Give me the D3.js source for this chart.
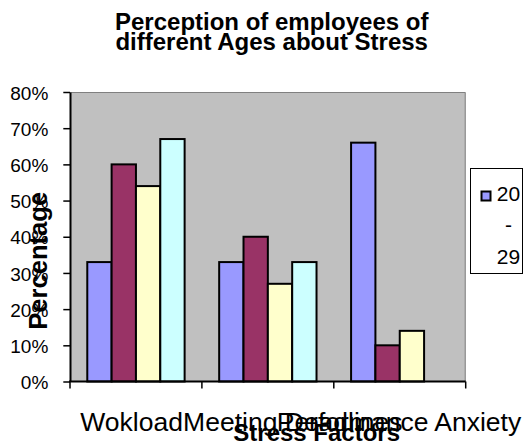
<!DOCTYPE html>
<meta charset="utf-8">
<style>
body { margin: 0; background: #fff; }
text { font-family: "Liberation Sans", Arial, sans-serif; fill: #000; }
</style>
<body>
<script src="https://cdn.jsdelivr.net/npm/d3@7"></script>
<script>
// chart data
var categories = ["Wokload", "Meeting Deadlines", "Performance Anxiety"];
var series = ["20 - 29", "30 - 39", "40 - 49", "50 & above"];
var values20 = [0.33, 0.33, 0.66];
var values30 = [0.60, 0.40, 0.10];
var values40 = [0.54, 0.27, 0.14];
var values50 = [0.67, 0.33, null];
var yTicks = [0, 0.1, 0.2, 0.3, 0.4, 0.5, 0.6, 0.7, 0.8];
var colors = ["#9999FF", "#993366", "#FFFFCC", "#CCFFFF"];

var allValues = [values20, values30, values40, values50];

var width = 525, height = 442;
var plot = {left: 70, right: 465.7, top: 92, bottom: 381.5};
// excel did not center the category labels exactly; nudge them
var labelShift = [-4.4, 25, -0.8];

var svg = d3.select("body").append("svg")
    .attr("width", width)
    .attr("height", height);

var x = d3.scaleBand()
    .domain(categories)
    .range([plot.left, plot.right])
    .paddingInner(0).paddingOuter(0);

var xInner = d3.scaleBand()
    .domain(series)
    .range([0, x.bandwidth()])
    .paddingInner(0).paddingOuter(0.71);

var y = d3.scaleLinear()
    .domain([0, 0.8])
    .range([plot.bottom, plot.top]);

var color = d3.scaleOrdinal().domain(series).range(colors);

// plot area
svg.append("rect")
    .attr("x", plot.left).attr("y", plot.top)
    .attr("width", plot.right - plot.left)
    .attr("height", plot.bottom - plot.top)
    .attr("fill", "#C0C0C0");
svg.append("path")
    .attr("d", "M" + plot.left + "," + (plot.top + 0.5) + "H" + (plot.right - 0.5) + "V" + plot.bottom)
    .attr("fill", "none")
    .attr("stroke", "#808080")
    .attr("stroke-width", 1);

// bars
var rows = [];
categories.forEach(function(c, i) {
    series.forEach(function(s, j) {
        var v = allValues[j][i];
        if (v != null) rows.push({cat: c, ser: s, value: v});
    });
});

svg.append("g").selectAll("rect")
    .data(rows)
    .enter().append("rect")
    .attr("x", function(d) { return x(d.cat) + xInner(d.ser); })
    .attr("y", function(d) { return y(d.value); })
    .attr("width", xInner.bandwidth())
    .attr("height", function(d) { return y(0) - y(d.value); })
    .attr("fill", function(d) { return color(d.ser); })
    .attr("stroke", "#000")
    .attr("stroke-width", 2);

// y axis
var yAxis = svg.append("g")
    .attr("transform", "translate(" + plot.left + ",0)")
    .call(d3.axisLeft(y).tickValues(yTicks).tickFormat(d3.format(".0%"))
        .tickSize(6.7).tickSizeOuter(0).tickPadding(15));
yAxis.select(".domain").attr("stroke", "#000").attr("stroke-width", 2);
yAxis.selectAll(".tick line").attr("stroke", "#000").attr("stroke-width", 1.5);
yAxis.selectAll(".tick text")
    .attr("dy", "0.38em")
    .style("font-size", "19px")
    .style("font-family", "'Liberation Sans', Arial, sans-serif");

// x axis: line and ticks at category boundaries
var bounds = categories.map(function(c) { return x(c); }).concat([x.range()[1]]);
svg.append("line")
    .attr("x1", plot.left - 1).attr("x2", plot.right)
    .attr("y1", plot.bottom).attr("y2", plot.bottom)
    .attr("stroke", "#000").attr("stroke-width", 2);
svg.append("g").selectAll("line")
    .data(bounds)
    .enter().append("line")
    .attr("x1", function(d) { return d; })
    .attr("x2", function(d) { return d; })
    .attr("y1", plot.bottom)
    .attr("y2", plot.bottom + 7)
    .attr("stroke", "#000").attr("stroke-width", 1.5);

var xAxis = svg.append("g")
    .attr("transform", "translate(0," + plot.bottom + ")")
    .call(d3.axisBottom(x).tickSize(0).tickPadding(30.7));
xAxis.select(".domain").remove();
xAxis.selectAll(".tick text")
    .attr("dx", function(d, i) { return labelShift[i]; })
    .style("font-size", "26.5px")
    .style("font-family", "'Liberation Sans', Arial, sans-serif");

// titles
var title = svg.append("text")
    .attr("text-anchor", "middle")
    .style("font-size", "24px")
    .style("font-weight", "bold");
title.append("tspan").attr("x", 271.7).attr("y", 29.5).text("Perception of employees of");
title.append("tspan").attr("x", 271.7).attr("y", 49.5).text("different Ages about Stress");

svg.append("text")
    .attr("transform", "translate(46.7,260.8) rotate(-90)")
    .attr("text-anchor", "middle")
    .style("font-size", "25.6px")
    .style("font-weight", "bold")
    .text("Percentage");

svg.append("text")
    .attr("x", 316.7).attr("y", 440.5)
    .attr("text-anchor", "middle")
    .style("font-size", "24px")
    .style("font-weight", "bold")
    .text("Stress Factors");

// legend (only the first entry fits in the box)
var legend = svg.append("g");
legend.append("rect")
    .attr("x", 470.5).attr("y", 168.5)
    .attr("width", 52).attr("height", 105)
    .attr("fill", "#fff")
    .attr("stroke", "#000").attr("stroke-width", 1);
legend.append("rect")
    .attr("x", 481.5).attr("y", 191.5)
    .attr("width", 9).attr("height", 9)
    .attr("fill", color(series[0]))
    .attr("stroke", "#000").attr("stroke-width", 2);
var legendText = legend.append("text")
    .attr("text-anchor", "middle")
    .style("font-size", "21px");
series[0].split(" ").forEach(function(part, i) {
    legendText.append("tspan")
        .attr("x", 508.5)
        .attr("y", 200.5 + i * 31.5)
        .text(part);
});
</script>
</body>
